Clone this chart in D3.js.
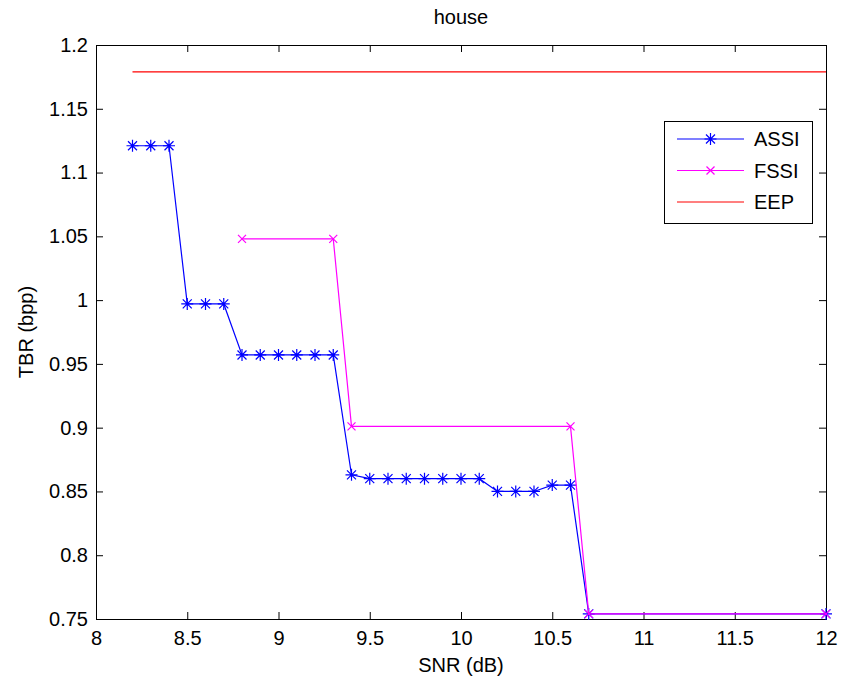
<!DOCTYPE html>
<html lang="en">
<head>
    <meta charset="UTF-8">
    <title>house</title>
    <script src="https://d3js.org/d3.v7.min.js"></script>
    <style>
        body {
            margin: 0;
            background: #ffffff;
        }

        text {
            font-family: "Liberation Sans", Arial, Helvetica, sans-serif;
            font-size: 20px;
            fill: #000;
        }
    </style>
</head>
<body>
    <div id="chart"></div>

    <script>
        // ASSI
        const assiX = [8.2, 8.3, 8.4, 8.5, 8.6, 8.7, 8.8, 8.9, 9.0, 9.1, 9.2, 9.3, 9.4,
            9.5, 9.6, 9.7, 9.8, 9.9, 10.0, 10.1, 10.2, 10.3, 10.4, 10.5, 10.6, 10.7, 12];
        const assiY = [1.121, 1.121, 1.121, 0.997, 0.997, 0.997, 0.957, 0.957, 0.957, 0.957, 0.957, 0.957, 0.863,
            0.860, 0.860, 0.860, 0.860, 0.860, 0.860, 0.860, 0.850, 0.850, 0.850, 0.855, 0.855, 0.754, 0.754];

        // FSSI
        const fssiX = [8.8, 9.3, 9.4, 10.6, 10.7, 12];
        const fssiY = [1.048, 1.048, 0.901, 0.901, 0.754, 0.754];

        // EEP
        const eepX = [8.2, 12];
        const eepY = [1.179, 1.179];

        const xTicks = [8, 8.5, 9, 9.5, 10, 10.5, 11, 11.5, 12];
        const yTicks = [0.75, 0.8, 0.85, 0.9, 0.95, 1, 1.05, 1.1, 1.15, 1.2];

        const width = 841;
        const height = 682;
        const margin = { top: 45, right: 15, bottom: 63, left: 96 };
        const innerW = width - margin.left - margin.right;
        const innerH = height - margin.top - margin.bottom;

        const svg = d3.select("#chart")
            .append("svg")
            .attr("width", width)
            .attr("height", height);

        svg.append("rect")
            .attr("width", width)
            .attr("height", height)
            .attr("fill", "#fff");

        const g = svg.append("g")
            .attr("transform", `translate(${margin.left}, ${margin.top})`);

        const x = d3.scaleLinear().domain([8, 12]).range([0, innerW]);
        const y = d3.scaleLinear().domain([0.75, 1.2]).range([innerH, 0]);

        // axes, matlab style: ticks inside, box all round
        const tickLen = 7;
        const fmt = d => String(d);

        g.append("g")
            .attr("transform", `translate(0, ${innerH})`)
            .call(d3.axisBottom(x).tickValues(xTicks).tickFormat(fmt).tickSizeInner(-tickLen).tickSizeOuter(0).tickPadding(12));
        g.append("g")
            .call(d3.axisTop(x).tickValues(xTicks).tickFormat("").tickSizeInner(-tickLen).tickSizeOuter(0));
        g.append("g")
            .call(d3.axisLeft(y).tickValues(yTicks).tickFormat(fmt).tickSizeInner(-tickLen).tickSizeOuter(0).tickPadding(8));
        g.append("g")
            .attr("transform", `translate(${innerW}, 0)`)
            .call(d3.axisRight(y).tickValues(yTicks).tickFormat("").tickSizeInner(-tickLen).tickSizeOuter(0));

        g.selectAll(".domain").remove();
        g.selectAll(".tick text")
            .attr("font-size", null)
            .attr("font-family", null);

        g.append("rect")
            .attr("x", 0.5)
            .attr("y", 0.5)
            .attr("width", innerW)
            .attr("height", innerH)
            .attr("fill", "none")
            .attr("stroke", "#000")
            .attr("stroke-width", 1);

        // lines
        const line = d3.line().x(d => x(d[0])).y(d => y(d[1]));
        const series = [
            { name: "ASSI", xs: assiX, ys: assiY, color: "#0000ff", marker: "star" },
            { name: "FSSI", xs: fssiX, ys: fssiY, color: "#ff00ff", marker: "x" },
            { name: "EEP", xs: eepX, ys: eepY, color: "#ff0000", marker: null }
        ];

        function markerPath(type, r) {
            if (type === "x") {
                return `M${-r},${-r}L${r},${r}M${-r},${r}L${r},${-r}`;
            }
            if (type === "star") {
                const d = r * 0.75;
                return `M${-r},0L${r},0M0,${-r}L0,${r}M${-d},${-d}L${d},${d}M${-d},${d}L${d},${-d}`;
            }
            return "";
        }

        series.forEach(s => {
            const pts = s.xs.map((v, i) => [v, s.ys[i]]);
            g.append("path")
                .datum(pts)
                .attr("fill", "none")
                .attr("stroke", s.color)
                .attr("stroke-width", 1.2)
                .attr("d", line);

            if (s.marker) {
                g.selectAll(null)
                    .data(pts)
                    .enter()
                    .append("path")
                    .attr("transform", d => `translate(${x(d[0])}, ${y(d[1])})`)
                    .attr("d", markerPath(s.marker, s.marker === "star" ? 6 : 4))
                    .attr("fill", "none")
                    .attr("stroke", s.color)
                    .attr("stroke-width", 1.2);
            }
        });

        // title and labels
        svg.append("text")
            .attr("x", margin.left + innerW / 2)
            .attr("y", 24)
            .attr("text-anchor", "middle")
            .text("house");

        svg.append("text")
            .attr("x", margin.left + innerW / 2)
            .attr("y", 672)
            .attr("text-anchor", "middle")
            .text("SNR (dB)");

        svg.append("text")
            .attr("transform", `translate(33, ${margin.top + innerH / 2}) rotate(-90)`)
            .attr("text-anchor", "middle")
            .text("TBR (bpp)");

        // legend
        const legend = svg.append("g").attr("transform", "translate(664, 121)");
        legend.append("rect")
            .attr("x", 0.5)
            .attr("y", 0.5)
            .attr("width", 148)
            .attr("height", 102)
            .attr("fill", "#fff")
            .attr("stroke", "#000");

        series.forEach((s, i) => {
            const ly = 18 + i * 31.5;
            legend.append("line")
                .attr("x1", 13).attr("x2", 80)
                .attr("y1", ly).attr("y2", ly)
                .attr("stroke", s.color)
                .attr("stroke-width", 1.2);
            if (s.marker) {
                legend.append("path")
                    .attr("transform", `translate(46.5, ${ly})`)
                    .attr("d", markerPath(s.marker, s.marker === "star" ? 6 : 4))
                    .attr("fill", "none")
                    .attr("stroke", s.color)
                    .attr("stroke-width", 1.2);
            }
            legend.append("text")
                .attr("x", 90)
                .attr("y", ly)
                .attr("dy", "0.36em")
                .text(s.name);
        });
    </script>
</body>
</html>
